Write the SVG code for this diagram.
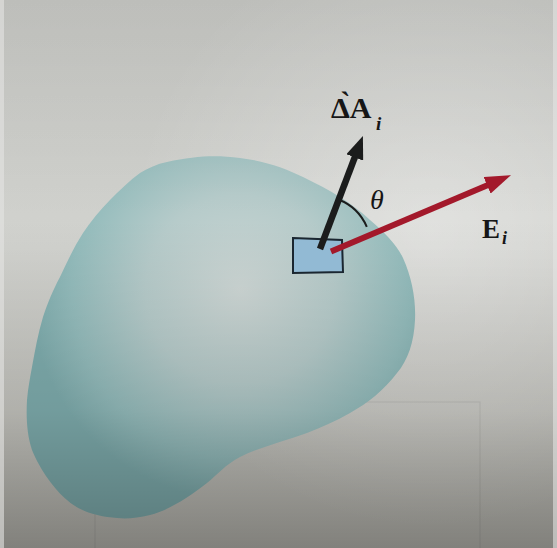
<svg xmlns="http://www.w3.org/2000/svg" width="557" height="548" viewBox="0 0 557 548">
  <style>
    .lbl { font-family: "Liberation Serif", "DejaVu Serif", serif; fill: #161616; }
    .bold { font-weight: bold; }
    .ital { font-style: italic; }
    .sheen { fill: none; stroke: #000; stroke-opacity: 0.07; stroke-width: 1.2; }
  </style>
  <defs>
    <linearGradient id="bg" x1="0" y1="0" x2="0" y2="1">
      <stop offset="0" stop-color="#c9cac6"/>
      <stop offset="0.45" stop-color="#d1d2ce"/>
      <stop offset="1" stop-color="#b9b8b1"/>
    </linearGradient>
    <radialGradient id="glow" gradientUnits="userSpaceOnUse" cx="430" cy="230" r="300">
      <stop offset="0" stop-color="#ffffff" stop-opacity="0.35"/>
      <stop offset="1" stop-color="#ffffff" stop-opacity="0"/>
    </radialGradient>
    <radialGradient id="blobFill" gradientUnits="userSpaceOnUse" cx="240" cy="290" r="210">
      <stop offset="0" stop-color="#cdd6d4"/>
      <stop offset="0.45" stop-color="#b6cbca"/>
      <stop offset="0.8" stop-color="#94bcbc"/>
      <stop offset="1" stop-color="#7fadae"/>
    </radialGradient>
    <linearGradient id="shade" x1="0" y1="0" x2="0" y2="1">
      <stop offset="0" stop-color="#000" stop-opacity="0.06"/>
      <stop offset="0.4" stop-color="#000" stop-opacity="0"/>
      <stop offset="0.75" stop-color="#000" stop-opacity="0.1"/>
      <stop offset="1" stop-color="#000" stop-opacity="0.3"/>
    </linearGradient>
    <marker id="headBlack" markerUnits="userSpaceOnUse" markerWidth="24" markerHeight="18" refX="1" refY="9" orient="auto">
      <path d="M0,0 L23,9 L0,18 Z" fill="#1b1c1c"/>
    </marker>
    <marker id="headRed" markerUnits="userSpaceOnUse" markerWidth="27" markerHeight="18" refX="1" refY="9" orient="auto">
      <path d="M0,0 L26,9 L0,18 Z" fill="#a3192b"/>
    </marker>
  </defs>

  <rect x="0" y="0" width="557" height="548" fill="url(#bg)"/>
  <rect x="0" y="0" width="557" height="548" fill="url(#glow)"/>
  <path class="sheen" d="M95,402 L480,402 L480,548 M95,402 L95,548"/>

  <g id="surface">
    <path d="M167,162 C195,156 215,155 240,158 C265,161 285,168 303,177 C330,190 352,203 370,220 C385,233 397,245 403,258 C412,278 416,300 415,320 C414,342 408,360 397,373 C384,390 368,403 350,413 C336,421 322,427 307,433 C285,441 260,447 240,457 C225,465 218,474 207,483 C190,496 170,510 150,515 C138,518 127,519 117,518 C100,517 80,512 67,500 C55,490 40,470 32,450 C27,435 26,418 27,400 C28,388 30,378 32,367 C35,350 38,334 43,317 C48,302 53,290 60,277 C67,262 74,247 83,233 C91,221 100,210 110,200 C120,190 130,180 140,173 C148,168 157,164 167,162 Z" fill="url(#blobFill)"/>
  </g>

  <rect x="0" y="0" width="557" height="548" fill="url(#shade)"/>
  <rect x="0" y="0" width="4" height="548" fill="#e4e5e2" opacity="0.6"/>
  <rect x="553" y="0" width="4" height="548" fill="#e4e5e2" opacity="0.6"/>

  <g id="element">
    <path d="M293,238 L342,240 L343,272 L293,273 Z" fill="#92bad4" stroke="#1a2630" stroke-width="2"/>
  </g>

  <g id="connectors">
    <path d="M338.4,199.5 A51,51 0 0 1 366.8,226.8" fill="none" stroke="#1b1c1c" stroke-width="2"/>
    <line x1="331" y1="251.5" x2="488" y2="184.9" stroke="#a3192b" stroke-width="6" marker-end="url(#headRed)"/>
    <line x1="320" y1="249" x2="355.1" y2="156.5" stroke="#1b1c1c" stroke-width="6.5" marker-end="url(#headBlack)"/>
  </g>

  <g id="labels">
    <text class="lbl bold" x="331" y="118" font-size="30">Δ̀A<tspan class="ital" x="376" y="130" font-size="19">i</tspan></text>
    <text class="lbl ital" x="370" y="209" font-size="28">θ</text>
    <text class="lbl bold" x="482" y="238" font-size="27">E<tspan class="ital" x="502" y="244" font-size="18">i</tspan></text>
  </g>
</svg>
